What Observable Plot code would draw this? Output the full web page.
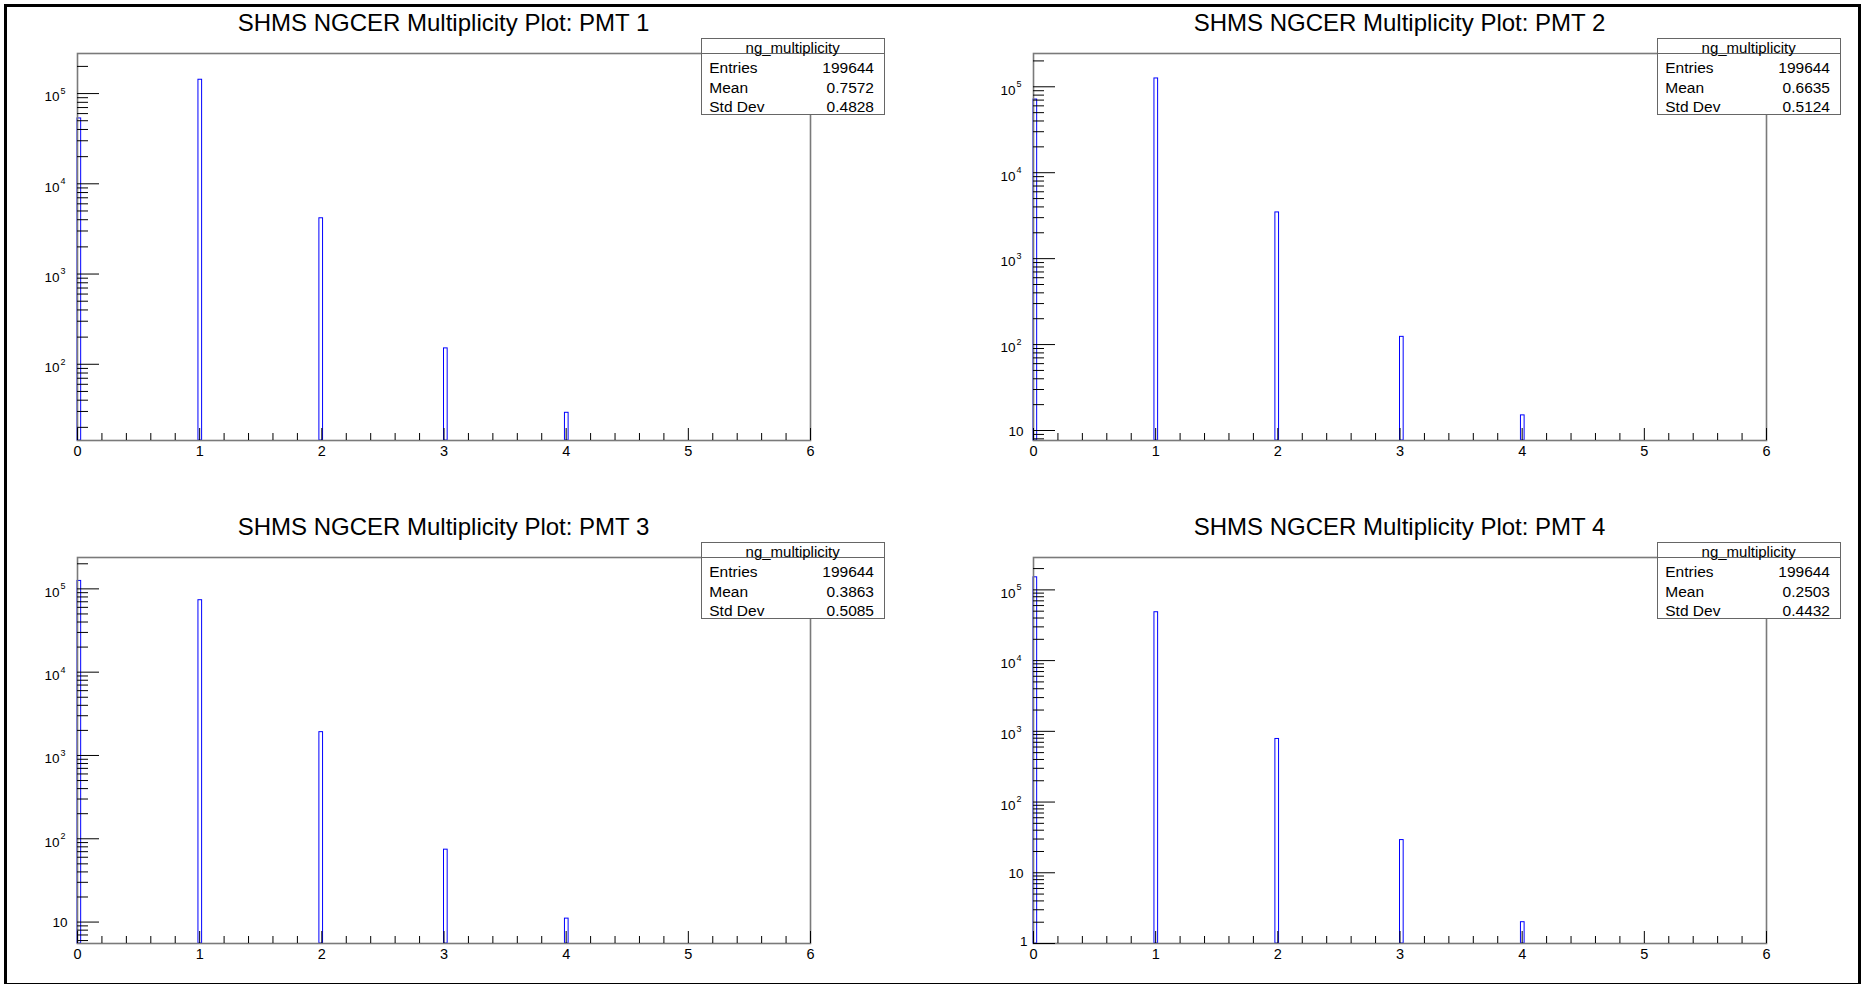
<!DOCTYPE html>
<html>
<head>
<meta charset="utf-8">
<script src="https://cdn.jsdelivr.net/npm/d3@7"></script>
<script src="https://cdn.jsdelivr.net/npm/@observablehq/plot@0.6"></script>
<style>
  body { margin: 0; background: #fff; font-family: "Liberation Sans", Arial, Helvetica, sans-serif; color: #000; }
  #root { position: relative; width: 1866px; height: 984px; overflow: hidden; background: #fff; }
  .border { position: absolute; left: 4px; top: 4px; width: 1857px; height: 982px; border: 3px solid #000; box-sizing: border-box; }
  .title { position: absolute; font-size: 24px; line-height: 24px; white-space: nowrap; transform: translateX(-50%); }
  .stat { position: absolute; width: 184px; height: 77px; border: 1px solid #666; background: #fff; box-sizing: border-box; }
  .stat .sep { position: absolute; left: 0; right: 0; top: 13.5px; height: 0; border-top: 1px solid #666; }
  .stat .head { position: absolute; left: 0; right: 0; top: 0; font-size: 15px; line-height: 17.6px; text-align: center; white-space: nowrap; }
  .stat .row { position: absolute; left: 7.6px; right: 9.7px; height: 18px; font-size: 15.5px; line-height: 18px; }
  .stat .row span:last-child { position: absolute; right: 0; }
  .panel { position: absolute; }
</style>
</head>
<body>
<div id="root"><div class="border"></div></div>
<script>
// ---------------- data ----------------
const titles = [
  "SHMS NGCER Multiplicity Plot: PMT 1",
  "SHMS NGCER Multiplicity Plot: PMT 2",
  "SHMS NGCER Multiplicity Plot: PMT 3",
  "SHMS NGCER Multiplicity Plot: PMT 4"
];
const histName = "ng_multiplicity";
const bins = [0, 1, 2, 3, 4];                  // multiplicity values
const binLow = [0, 0.99, 1.98, 3.00, 3.99];    // lower edge of the bin holding each value
const binWidth = 0.03;                          // 200 bins on [0, 6]
const pmt1 = [53015, 142300, 4150, 150, 29];
const pmt2 = [71056, 125000, 3450, 123, 15];
const pmt3 = [124554, 73100, 1905, 74, 11];
const pmt4 = [150533, 48300, 780, 29, 2];
const entries = [199644, 199644, 199644, 199644];
const means = ["0.7572", "0.6635", "0.3863", "0.2503"];
const stdDevs = ["0.4828", "0.5124", "0.5085", "0.4432"];
const yLow = [14.3, 7.65, 5.53, 1];
const yHigh = [2.78e5, 2.44e5, 2.38e5, 2.87e5];
const xTickLabels = [0, 1, 2, 3, 4, 5, 6];

// ---------------- layout ----------------
const counts = [pmt1, pmt2, pmt3, pmt4];
const frames = [
  {left: 77, top: 53, bottom: 440, titleTop: 11},
  {left: 1033, top: 53, bottom: 440, titleTop: 11},
  {left: 77, top: 557, bottom: 943, titleTop: 514.5},
  {left: 1033, top: 557, bottom: 943, titleTop: 514.5}
];
const FW = 733;
const ml = 70, mr = 30, mt = 20, mb = 32;
const root = document.getElementById("root");
const FONT = "Liberation Sans, Arial, sans-serif";

const xMinor = d3.range(1, 30).map(k => k / 5).filter(v => Math.abs(v - Math.round(v)) > 1e-9);

frames.forEach((f, i) => {
  const fh = f.bottom - f.top;
  const rows = bins.map((b, j) => ({bin: b, lo: binLow[j], hi: binLow[j] + binWidth, count: counts[i][j]}));
  const majors = [1, 10, 100, 1000, 10000, 100000].filter(v => v >= yLow[i] * 0.999 && v <= yHigh[i]);
  const majPow = majors.filter(v => v >= 100);
  const majTen = majors.filter(v => v === 10);
  const majOne = majors.filter(v => v === 1);
  const minors = [];
  for (let p = 0; p <= 5; p++) for (let m = 2; m <= 9; m++) {
    const v = m * Math.pow(10, p);
    if (v > yLow[i] && v < yHigh[i]) minors.push(v);
  }

  const chart = Plot.plot({
    width: FW + ml + mr,
    height: fh + mt + mb,
    marginLeft: ml, marginRight: mr, marginTop: mt, marginBottom: mb,
    style: {background: "transparent", fontFamily: FONT, fontSize: "14px", color: "#000", overflow: "visible"},
    x: {domain: [0, 6], axis: null},
    y: {type: "log", domain: [yLow[i], yHigh[i]], axis: null},
    marks: [
      Plot.rect(rows, {x1: "lo", x2: "hi", y1: yLow[i], y2: "count", fill: "none", stroke: "#0000ff", strokeWidth: 1, inset: 0}),
      Plot.frame({stroke: "#7a7a7a", strokeWidth: 1.6}),
      Plot.tickX(xTickLabels, {x: d => d, stroke: "#000", strokeWidth: 1, insetTop: fh - 12}),
      Plot.tickX(xMinor, {x: d => d, stroke: "#000", strokeWidth: 1, insetTop: fh - 7}),
      Plot.tickY(majors, {y: d => d, stroke: "#000", strokeWidth: 1, insetRight: FW - 22}),
      Plot.tickY(minors, {y: d => d, stroke: "#000", strokeWidth: 1, insetRight: FW - 11}),
      // x tick labels
      Plot.text(xTickLabels, {x: d => d, frameAnchor: "bottom", lineAnchor: "top", dy: 5, text: d => String(d), fontSize: 14.5, fontFamily: FONT, fill: "#000"}),
      // y tick labels "10" + exponent
      Plot.text(majPow, {y: d => d, frameAnchor: "left", textAnchor: "end", dx: -18, dy: 3.5, text: () => "10", fontSize: 13.5, fontFamily: FONT, fill: "#000"}),
      Plot.text(majPow, {y: d => d, frameAnchor: "left", textAnchor: "start", dx: -17, dy: -2.5, text: d => String(Math.round(Math.log10(d))), fontSize: 9, fontFamily: FONT, fill: "#000"}),
      Plot.text(majTen, {y: d => d, frameAnchor: "left", textAnchor: "end", dx: -10, dy: 1, text: d => String(d), fontSize: 13.5, fontFamily: FONT, fill: "#000"}),
      Plot.text(majOne, {y: d => d, frameAnchor: "left", textAnchor: "end", dx: -6, dy: -1.5, text: d => String(d), fontSize: 13.5, fontFamily: FONT, fill: "#000"})
    ]
  });
  chart.classList.add("panel");
  chart.style.left = (f.left - ml) + "px";
  chart.style.top = (f.top - mt) + "px";
  root.appendChild(chart);

  const t = document.createElement("div");
  t.className = "title";
  t.textContent = titles[i];
  t.style.left = (f.left + FW / 2) + "px";
  t.style.top = f.titleTop + "px";
  root.appendChild(t);

  const box = document.createElement("div");
  box.className = "stat";
  box.style.left = (f.left + 623.7) + "px";
  box.style.top = (f.top - 14.7) + "px";
  box.innerHTML =
    `<div class="sep"></div>` +
    `<div class="head">${histName}</div>` +
    `<div class="row" style="top:19.6px"><span>Entries</span><span>${entries[i]}</span></div>` +
    `<div class="row" style="top:39.4px"><span>Mean</span><span>${means[i]}</span></div>` +
    `<div class="row" style="top:58.6px"><span>Std Dev</span><span>${stdDevs[i]}</span></div>`;
  root.appendChild(box);
});
</script>
</body>
</html>
